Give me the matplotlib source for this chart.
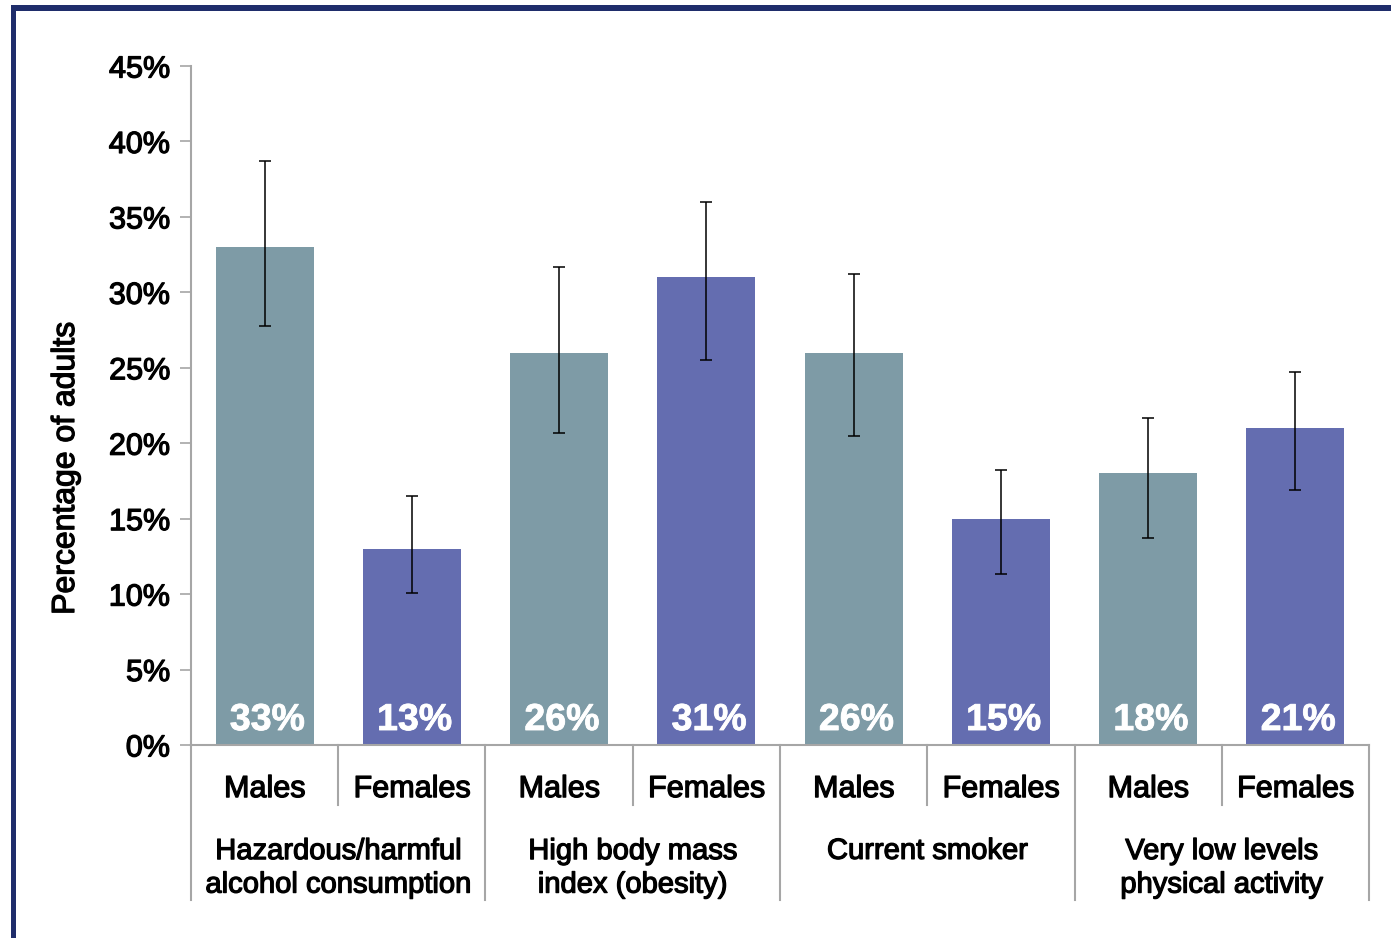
"""
Risk factors by sex - grouped bar chart with error bars
"""

import matplotlib
matplotlib.use("Agg")
import matplotlib.pyplot as plt
import matplotlib.transforms as mtransforms
import matplotlib.patheffects as pe
from matplotlib.patches import Rectangle
import numpy as np

plt.rcParams["font.family"] = ["Liberation Sans", "DejaVu Sans"]

# Data
groups = ["Hazardous/harmful\nalcohol consumption", "High body mass\nindex (obesity)",
          "Current smoker", "Very low levels\nphysical activity"]
sexes = ["Males", "Females"]
values = [33, 13, 26, 31, 26, 15, 18, 21]
err_low = [27.8, 10.1, 20.7, 25.5, 20.5, 11.3, 13.7, 16.9]
err_high = [38.7, 16.5, 31.7, 36.0, 31.2, 18.2, 21.7, 24.7]

MALE_COLOR = "#7e9ba6"
FEMALE_COLOR = "#646db0"
FRAME_COLOR = "#1f2d6b"
AXIS_COLOR = "#a6a6a6"
# slightly heavier text, close to a medium weight
HEAVY = [pe.withStroke(linewidth=0.9, foreground="black")]
HEAVY_W = [pe.withStroke(linewidth=0.6, foreground="white")]

fig = plt.figure(figsize=(13.91, 9.38), dpi=100, facecolor="white")
ax = fig.add_axes([0.1373, 0.2058, 0.8469, 0.7238])

x = np.arange(len(values))
colors = [MALE_COLOR if i % 2 == 0 else FEMALE_COLOR for i in range(len(values))]
vals = np.array(values, dtype=float)
yerr = np.array([vals - np.array(err_low), np.array(err_high) - vals])

ax.bar(x, vals, width=0.666, color=colors, zorder=2)
ax.errorbar(x, vals, yerr=yerr, fmt="none", ecolor="black", elinewidth=1.1,
            capsize=4, capthick=1.1, zorder=3)

for xi, v in zip(x, values):
    ax.annotate(f"{v}%", (xi, 0), xytext=(2, 5), textcoords="offset points",
                ha="center", va="bottom", color="white", fontsize=27,
                fontweight="bold", zorder=4, path_effects=HEAVY_W)

ax.set_xlim(-0.5, len(values) - 0.5)
ax.set_ylim(0, 45)
ax.set_yticks(np.arange(0, 46, 5))
ax.set_yticklabels([f"{t}%" for t in range(0, 46, 5)], fontsize=22)
for lbl in ax.get_yticklabels():
    lbl.set_path_effects(HEAVY)
ax.set_xticks([])
ax.tick_params(axis="y", direction="out", length=8, width=1.2, color=AXIS_COLOR, pad=7)
for s in ["top", "right"]:
    ax.spines[s].set_visible(False)
ax.spines["left"].set_color(AXIS_COLOR)
ax.spines["bottom"].set_color(AXIS_COLOR)
ax.spines["left"].set_linewidth(1.5)
ax.spines["bottom"].set_linewidth(1.5)
fig.text(66 / 1391, 1 - 468 / 938, "Percentage of adults", rotation=90,
         ha="center", va="center", fontsize=23, path_effects=HEAVY)

# multi-level x labels
trans = mtransforms.blended_transform_factory(ax.transData, ax.transAxes)
for i in range(len(values)):
    ax.text(x[i], -0.065, sexes[i % 2], transform=trans, ha="center", va="center",
            fontsize=22, path_effects=HEAVY)
for g, name in enumerate(groups):
    ypos = -0.181 if "\n" in name else -0.156
    ax.text(2 * g + 0.5, ypos, name, transform=trans, ha="center", va="center",
            fontsize=21, linespacing=1.25, path_effects=HEAVY)
for b in np.arange(-0.5, len(values), 1.0):
    bottom = -0.228 if int(b + 0.5) % 2 == 0 else -0.088
    ax.plot([b, b], [0, bottom], transform=trans, color=AXIS_COLOR, lw=1.5,
            clip_on=False)

# frame around the figure
W, H = 1391, 938
fig.add_artist(Rectangle((11 / W, 0), 5 / W, 1 - 5 / H, transform=fig.transFigure,
                         color=FRAME_COLOR, lw=0))
fig.add_artist(Rectangle((11 / W, 1 - 11 / H), 1, 6 / H, transform=fig.transFigure,
                         color=FRAME_COLOR, lw=0))

fig.savefig("out.png", dpi=100, facecolor="white")
